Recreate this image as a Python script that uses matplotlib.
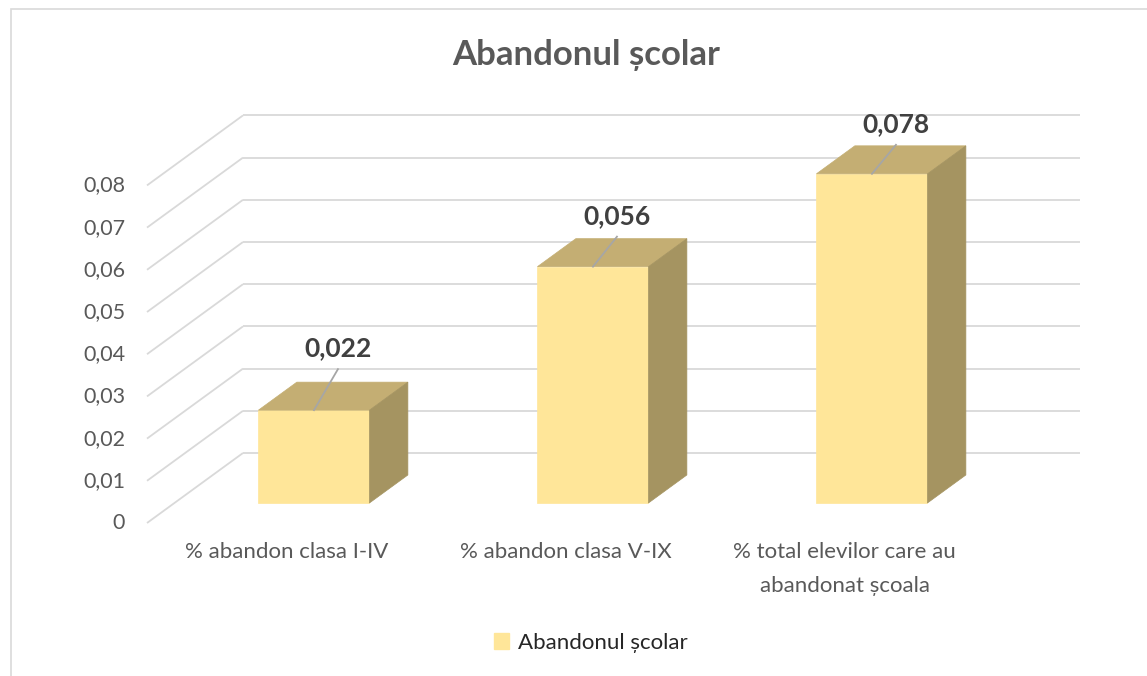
import matplotlib
matplotlib.use("Agg")
import matplotlib.pyplot as plt
from matplotlib.patches import Polygon, Rectangle, Patch

# ---- data ----
categories = ["% abandon clasa I-IV", "% abandon clasa V-IX",
              "% total elevilor care au\nabandonat școala"]
values = [0.022, 0.056, 0.078]
series_name = "Abandonul școlar"
title = "Abandonul școlar"
yticks = [0, 0.01, 0.02, 0.03, 0.04, 0.05, 0.06, 0.07, 0.08]

# ---- style / layout ----
W, H, DPI = 1147, 676, 100
FONT = ["Lato", "DejaVu Sans"]
FRONT = "#FFE699"
TOP = "#C4AE73"
SIDE = "#A59461"
GRID = "#D9D9D9"
TXT = "#595959"
LBL = "#404040"

CAT_PX = 279.0          # pixels per category unit
X0_PX = 286.5           # pixel x of category 0 at floor front
VAL_PX = 4220.0         # pixels per value unit
Y0_PX = 523.0           # pixel y (from top) of value 0 at floor front

DX = 96 / CAT_PX        # full-depth offset (category units)
DY = 70 / VAL_PX        # full-depth offset (value units)
F0, F1 = 0.286, 0.686   # bar front/back depth fractions
HALF = 0.199            # half bar width
LABEL_LIFT = [62, 51, 50]   # px above front-top edge (label centre)
LABEL_SHIFT = 24            # px to the right

fig = plt.figure(figsize=(W / DPI, H / DPI), dpi=DPI)
ax = fig.add_axes([0, 0, 1, 1])
ax.set_xlim(-X0_PX / CAT_PX, (W - X0_PX) / CAT_PX)
ax.set_ylim(-(H - Y0_PX) / VAL_PX, Y0_PX / VAL_PX)
ax.axis("off")

# outer chart border
fig.add_artist(Rectangle((11 / W, -0.05), 1.2, 1 - 9 / H + 0.05,
                         transform=fig.transFigure, fill=False,
                         edgecolor=GRID, lw=1.2))

left = -0.5
right = len(categories) - 0.5
# gridlines: left wall diagonals + back wall horizontals
for v in yticks:
    ax.plot([left, left + DX], [v, v + DY], color=GRID, lw=1.3, zorder=1,
            solid_capstyle="butt")
    ax.plot([left + DX, right + DX], [v + DY, v + DY], color=GRID, lw=1.3,
            zorder=1, solid_capstyle="butt")
    lab = "0" if v == 0 else f"{v:.2f}".replace(".", ",")
    ax.text(left - 22 / CAT_PX, v, lab, ha="right", va="center",
            fontsize=15.5, color=TXT, family=FONT)

# bars
for i, v in enumerate(values):
    x0, x1 = i - HALF, i + HALF
    fx0, fx1 = x0 + F0 * DX, x1 + F0 * DX
    fy = F0 * DY
    bx0, bx1 = x0 + F1 * DX, x1 + F1 * DX
    by = F1 * DY
    front = Polygon([(fx0, fy), (fx1, fy), (fx1, fy + v), (fx0, fy + v)],
                    closed=True, facecolor=FRONT, edgecolor=FRONT, lw=0.5,
                    zorder=3)
    top = Polygon([(fx0, fy + v), (fx1, fy + v), (bx1, by + v), (bx0, by + v)],
                  closed=True, facecolor=TOP, edgecolor=TOP, lw=0.5, zorder=3)
    side = Polygon([(fx1, fy), (bx1, by), (bx1, by + v), (fx1, fy + v)],
                   closed=True, facecolor=SIDE, edgecolor=SIDE, lw=0.5,
                   zorder=3)
    for p in (front, top, side):
        ax.add_patch(p)
    # data label + leader line
    cx = i + F0 * DX
    ly = fy + v + LABEL_LIFT[i] / VAL_PX
    lx = cx + LABEL_SHIFT / CAT_PX
    ax.plot([cx, lx], [fy + v, ly - 21 / VAL_PX], color="#A6A6A6", lw=1.3,
            zorder=4)
    ax.text(lx, ly, f"{v:.3f}".replace(".", ","), ha="center", va="center",
            fontsize=19, fontweight="bold", color=LBL, family=FONT, zorder=5)

# category labels
for i, c in enumerate(categories):
    ax.text(i, -19 / VAL_PX, c, ha="center", va="top", fontsize=16,
            color=TXT, family=FONT, linespacing=1.85)

fig.text(586 / W, 1 - 55 / H, title, ha="center", va="center", fontsize=25,
         fontweight="bold", color=TXT, family=FONT)

leg = fig.legend(handles=[Patch(facecolor=FRONT, edgecolor=FRONT,
                                label=series_name)],
                 loc="center", bbox_to_anchor=(591 / W, 1 - 643 / H),
                 frameon=False, handlelength=0.7, handleheight=0.7,
                 handletextpad=0.4, prop={"family": FONT, "size": 16})
for t in leg.get_texts():
    t.set_color("#262626")

fig.savefig("out.png", dpi=DPI)
